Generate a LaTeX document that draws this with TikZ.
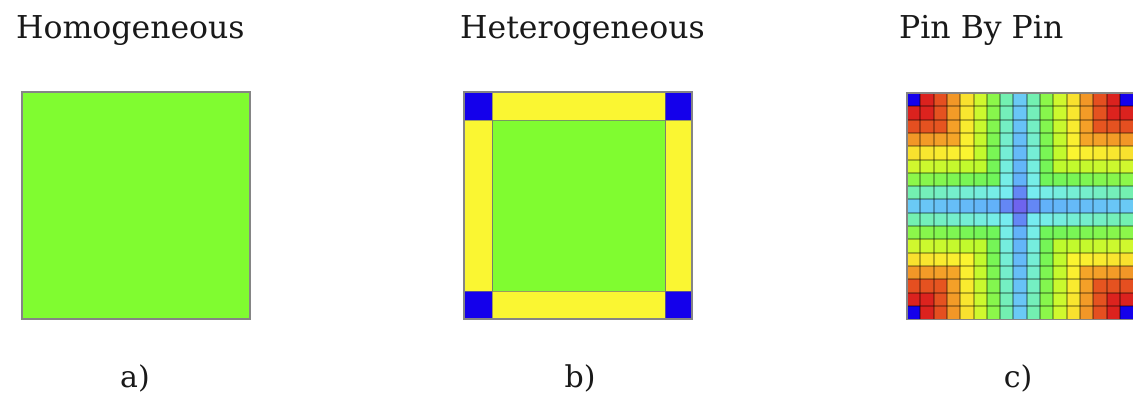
\documentclass[tikz,border=0pt]{standalone}
\usepackage{fontspec}
\setmainfont{DejaVu Serif}
\definecolor{homgreen}{RGB}{128,252,48}
\definecolor{hetyellow}{RGB}{250,246,50}
\definecolor{pinblue}{RGB}{20,0,235}
\definecolor{ctr}{RGB}{110,100,238}
\definecolor{ctrn}{RGB}{100,135,245}
\definecolor{lev0}{RGB}{95,170,250}
\definecolor{lev1}{RGB}{118,236,240}
\definecolor{lev2}{RGB}{112,245,90}
\definecolor{lev3}{RGB}{190,250,45}
\definecolor{lev4}{RGB}{250,244,48}
\definecolor{lev5}{RGB}{245,165,40}
\definecolor{lev6}{RGB}{230,85,32}
\definecolor{lev7}{RGB}{220,35,30}
\definecolor{lev8}{RGB}{210,22,22}
\definecolor{txt}{RGB}{25,25,25}
\tikzset{
  title/.style={anchor=base west,inner sep=0pt,font=\fontsize{31.5}{34}\selectfont,text=txt},
  sublabel/.style={anchor=base,inner sep=0pt,font=\fontsize{30}{32}\selectfont,text=txt},
  panelborder/.style={draw=black!48,line width=1.2pt},
  innerline/.style={draw=black!55,line width=0.9pt,draw opacity=0.7},
  gridline/.style={draw=black,line width=2pt,draw opacity=0.3}
}
\begin{document}
\begin{tikzpicture}[x=1pt,y=-1pt]
\fill[white] (0,0) rectangle (1133,399);
\useasboundingbox (0,0) rectangle (1133,399);
% titles
\node[title] (tA) at (16,38) {Homogeneous};
\node[title] (tB) at (460,38) {Heterogeneous};
\node[title] (tC) at (899,38) {Pin By Pin};
% sub labels
\node[sublabel] (lA) at (135,387) {a)};
\node[sublabel] (lB) at (580,387) {b)};
\node[sublabel] (lC) at (1018,387) {c)};
% panel a
\fill[homgreen] (22,92) rectangle (250,319);
\draw[panelborder] (22,92) rectangle (250,319);
% panel b
\fill[hetyellow] (464,92) rectangle (692,319);
\fill[homgreen] (492,120) rectangle (665,291);
\fill[pinblue] (464,92) rectangle (492,120);
\fill[pinblue] (665,92) rectangle (692,120);
\fill[pinblue] (464,291) rectangle (492,319);
\fill[pinblue] (665,291) rectangle (692,319);
\draw[innerline] (492,92) -- (492,319) (665,92) -- (665,319);
\draw[innerline] (464,120) -- (492,120) (665,120) -- (692,120);
\draw[innerline] (464,291) -- (492,291) (665,291) -- (692,291);
\draw[innerline] (492,120) rectangle (665,291);
\draw[panelborder] (464,92) rectangle (692,319);
% panel c
\begin{scope}
\clip (0,0) rectangle (1133,399);
\foreach \i in {0,...,16}{
  \foreach \j in {0,...,16}{
    \pgfmathtruncatemacro\di{abs(\i-8)}
    \pgfmathtruncatemacro\dj{abs(\j-8)}
    \pgfmathtruncatemacro\mn{min(\di,\dj)}
    \pgfmathtruncatemacro\mx{max(\di,\dj)}
    \pgfmathsetmacro\sv{\mn+0.06*(\mx-\mn)}
    \pgfmathtruncatemacro\Lv{floor(\sv)}
    \pgfmathtruncatemacro\pct{round((\sv-\Lv)*100)}
    \pgfmathtruncatemacro\Lp{min(\Lv+1,8)}
    \ifnum\mn=8 \def\cc{pinblue}\else \edef\cc{lev\Lp!\pct!lev\Lv}\fi
    \ifnum\mx=0 \def\cc{ctr}\fi
    \ifnum\mn=0 \ifnum\mx=1 \def\cc{ctrn}\fi\fi
    \fill[fill=\cc] ({907+\i*13.3},{93+\j*13.3}) rectangle ({907+(\i+1)*13.3},{93+(\j+1)*13.3});
  }
}
\foreach \k in {1,...,16}{
  \draw[gridline] ({907+\k*13.3},93) -- ({907+\k*13.3},319.1);
  \draw[gridline] (907,{93+\k*13.3}) -- (1133.1,{93+\k*13.3});
}
\draw[panelborder] (907,93) rectangle (1133.1,319.1);
\end{scope}
\end{tikzpicture}
\end{document}
